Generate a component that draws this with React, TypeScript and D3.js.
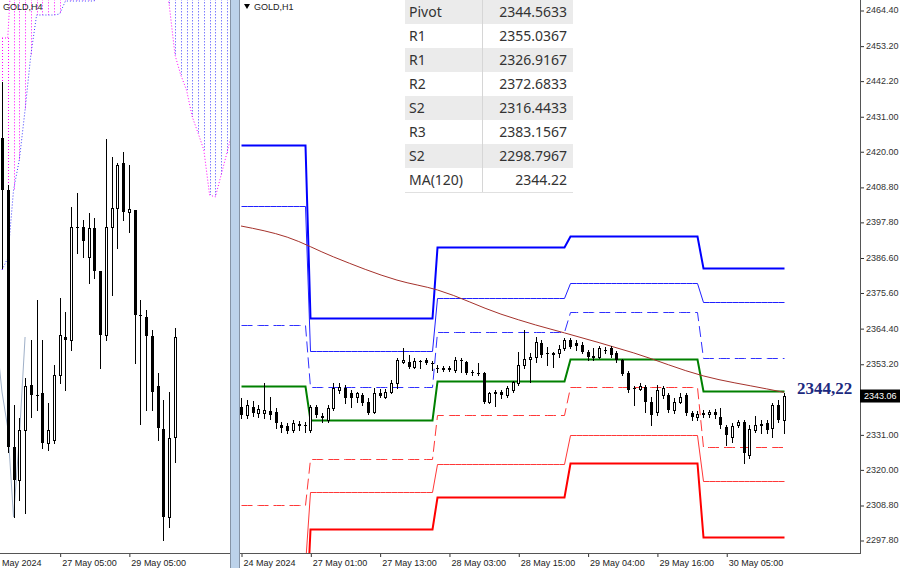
import React, { useEffect, useRef } from 'react';
import * as d3 from 'd3';

// every bar: [open, high, low, close]
type Bar = number[];

/* ---------- H1 pane (right) ---------- */
const BARS_24_MAY: Bar[] = [
  [2339.7, 2342.4, 2336.1, 2337.1], [2337.1, 2341.8, 2336.1, 2340.2], [2339.6, 2341.5, 2336.8, 2337.7],
  [2337.7, 2340.2, 2336.5, 2338.9], [2337.7, 2347.2, 2336.1, 2338.6], [2338.3, 2342.7, 2335.8, 2337.1],
  [2338.0, 2339.3, 2333.0, 2334.6], [2333.9, 2334.9, 2331.7, 2333.0], [2333.6, 2334.6, 2331.4, 2332.0],
  [2332.4, 2335.5, 2331.7, 2334.6], [2334.2, 2335.2, 2332.4, 2333.6], [2333.9, 2334.9, 2331.7, 2333.6]
];
const BARS_27_MAY: Bar[] = [
  [2332.4, 2340.2, 2331.7, 2339.6], [2339.6, 2340.2, 2336.5, 2337.1], [2336.8, 2337.7, 2334.9, 2336.2],
  [2335.5, 2340.2, 2334.9, 2339.3], [2339.3, 2347.2, 2338.6, 2345.6], [2345.0, 2347.2, 2344.0, 2345.9],
  [2345.6, 2346.5, 2340.9, 2342.4], [2344.0, 2345.0, 2339.6, 2342.4], [2342.7, 2344.3, 2341.2, 2344.0],
  [2343.4, 2344.0, 2340.2, 2340.9], [2341.2, 2342.4, 2337.4, 2337.7], [2338.0, 2345.6, 2337.7, 2344.0],
  [2344.0, 2345.3, 2342.7, 2343.0], [2342.7, 2345.3, 2342.4, 2344.3], [2344.3, 2348.1, 2344.0, 2347.2],
  [2347.2, 2355.0, 2345.6, 2354.4], [2353.7, 2358.2, 2353.4, 2354.4], [2353.7, 2356.0, 2351.9, 2352.2],
  [2352.2, 2355.0, 2351.9, 2354.1], [2354.1, 2354.4, 2351.9, 2353.8], [2354.4, 2355.0, 2353.1, 2353.4],
  [2353.4, 2354.1, 2351.2, 2353.2]
];
const BARS_28_MAY: Bar[] = [
  [2351.9, 2352.8, 2350.6, 2351.6], [2351.6, 2352.5, 2350.9, 2351.9], [2351.9, 2352.5, 2350.9, 2351.2],
  [2351.2, 2355.3, 2350.6, 2354.4], [2354.4, 2355.0, 2350.6, 2354.1], [2353.7, 2354.1, 2350.0, 2350.3],
  [2350.6, 2351.2, 2349.7, 2350.3], [2350.4, 2353.4, 2349.7, 2350.0], [2350.3, 2350.5, 2340.9, 2341.2],
  [2341.2, 2344.3, 2340.9, 2344.0], [2344.0, 2345.0, 2339.9, 2344.3], [2344.3, 2345.0, 2342.4, 2343.4],
  [2343.4, 2346.2, 2342.7, 2345.6], [2345.0, 2347.8, 2344.3, 2347.5], [2347.2, 2356.9, 2346.5, 2352.8],
  [2352.8, 2363.8, 2351.9, 2354.7], [2354.7, 2356.6, 2347.5, 2355.3], [2355.3, 2361.6, 2353.7, 2360.0],
  [2359.7, 2360.7, 2355.3, 2356.0], [2356.6, 2358.5, 2352.8, 2356.3], [2356.3, 2356.9, 2352.2, 2356.6],
  [2356.6, 2359.1, 2355.3, 2357.8], [2358.2, 2361.3, 2357.5, 2360.7]
];
const BARS_29_MAY: Bar[] = [
  [2360.7, 2361.3, 2358.2, 2358.5], [2359.7, 2360.7, 2357.5, 2358.8], [2359.1, 2360.0, 2356.6, 2356.9],
  [2356.9, 2357.5, 2354.4, 2355.3], [2355.3, 2358.2, 2354.4, 2355.6], [2355.3, 2358.8, 2355.0, 2358.2],
  [2357.5, 2358.5, 2356.6, 2357.2], [2358.2, 2358.8, 2355.3, 2356.0], [2356.6, 2357.2, 2353.7, 2354.4],
  [2354.4, 2354.7, 2349.7, 2350.0], [2350.3, 2350.9, 2344.3, 2344.9], [2345.6, 2346.2, 2340.2, 2345.3],
  [2345.3, 2347.2, 2344.9, 2346.2], [2345.9, 2346.5, 2338.0, 2341.2], [2341.2, 2342.7, 2333.9, 2337.1],
  [2338.0, 2346.5, 2337.1, 2344.9], [2343.4, 2346.2, 2342.4, 2345.6], [2343.4, 2344.0, 2338.0, 2338.6],
  [2338.6, 2342.4, 2337.7, 2341.2], [2341.2, 2344.0, 2340.9, 2342.7], [2343.4, 2344.0, 2337.1, 2337.7],
  [2337.7, 2338.3, 2335.5, 2336.5], [2336.5, 2338.3, 2335.5, 2337.4]
];
const BARS_30_MAY: Bar[] = [
  [2337.4, 2338.6, 2336.5, 2337.7], [2337.4, 2338.6, 2336.5, 2338.0], [2338.0, 2339.0, 2336.1, 2337.1],
  [2336.5, 2339.3, 2333.0, 2333.9], [2333.3, 2333.9, 2327.7, 2330.8], [2330.2, 2334.6, 2328.6, 2333.6],
  [2333.9, 2335.5, 2333.3, 2334.9], [2334.9, 2335.5, 2322.0, 2325.1], [2324.5, 2333.9, 2323.6, 2332.7],
  [2332.4, 2336.8, 2331.7, 2333.9], [2333.9, 2335.5, 2331.4, 2334.2], [2334.6, 2335.5, 2331.4, 2332.4],
  [2333.0, 2340.9, 2330.2, 2340.2], [2340.2, 2341.8, 2334.9, 2335.5], [2335.5, 2344.0, 2331.4, 2343.06]
];
const DAYS = [BARS_24_MAY, BARS_27_MAY, BARS_28_MAY, BARS_29_MAY, BARS_30_MAY];

// daily levels, one value per day above
const R3 = [2422.0, 2367.6, 2389.9, 2393.4, 2383.1567];
const R2 = [2402.8, 2357.2, 2373.9, 2378.6, 2372.6833];
const R1 = [2365.4, 2345.9, 2363.3, 2369.6, 2355.0367];
const PIVOT = [2346.3, 2335.4, 2347.8, 2354.8, 2344.5633];
const S1 = [2308.8, 2323.3, 2337.1, 2345.8, 2326.9167];
const S2 = [2290.0, 2312.9, 2321.7, 2330.8, 2316.4433];
const S3 = [2268.0, 2301.3, 2311.3, 2322.1, 2298.7967];

const MA_BARS = [0, 8, 16, 27, 34, 45, 51, 56, 68, 80, 91, 94];
const MA_VALUES = [2396.5, 2393.0, 2386.8, 2379.5, 2376.4, 2368.8, 2365.4, 2362.9, 2356.6, 2349.4, 2345.3, 2344.22];
const MA_LABEL = '2344,22';

const PRICE_TICKS = [2464.4, 2453.2, 2442.2, 2431.0, 2420.0, 2408.8, 2397.8, 2386.6, 2375.6, 2364.4,
  2353.2, 2342.2, 2331.0, 2320.0, 2308.8, 2297.8];
const LAST_PRICE = 2343.06;
const H1_TICK_BARS = [0, 12, 24, 36, 48, 60, 72, 84];
const H1_TICK_LABELS = ['24 May 2024', '27 May 01:00', '27 May 13:00', '28 May 03:00', '28 May 15:00',
  '29 May 04:00', '29 May 16:00', '30 May 05:00'];

const TABLE_NAMES = ['Pivot', 'R1', 'R1', 'R2', 'S2', 'R3', 'S2', 'MA(120)'];
const TABLE_VALUES = ['2344.5633', '2355.0367', '2326.9167', '2372.6833', '2316.4433', '2383.1567',
  '2298.7967', '2344.22'];

/* ---------- H4 pane (left) ---------- */
const H4_BARS: Bar[] = [
  [2438.6, 2455.4, 2399.6, 2423.0], [2423.0, 2424.5, 2344.4, 2345.9], [2345.9, 2358.5, 2324.9, 2336.0],
  [2336.0, 2354.6, 2330.0, 2351.0], [2351.0, 2366.6, 2326.1, 2364.2], [2364.5, 2378.0, 2354.9, 2361.5],
  [2361.5, 2390.0, 2357.0, 2361.2], [2362.1, 2378.0, 2345.6, 2347.1], [2347.1, 2359.1, 2345.0, 2351.0],
  [2348.0, 2370.5, 2347.1, 2367.5], [2367.5, 2390.6, 2365.1, 2379.5], [2378.9, 2386.4, 2363.0, 2378.0],
  [2378.0, 2417.9, 2375.0, 2411.9], [2411.9, 2422.1, 2404.1, 2411.6], [2411.9, 2414.0, 2402.9, 2407.7],
  [2402.9, 2416.1, 2395.1, 2411.6], [2411.6, 2414.6, 2396.6, 2398.7], [2398.7, 2398.7, 2369.6, 2379.5],
  [2379.5, 2438.3, 2378.0, 2411.9], [2411.9, 2432.9, 2391.5, 2417.6], [2417.6, 2431.1, 2405.6, 2430.5],
  [2431.1, 2434.4, 2414.0, 2416.4], [2416.4, 2430.5, 2410.4, 2417.3], [2417.0, 2417.0, 2371.1, 2385.5],
  [2385.5, 2390.0, 2352.8, 2385.2], [2384.9, 2387.0, 2357.0, 2379.2], [2379.2, 2381.0, 2357.0, 2362.4],
  [2364.2, 2368.1, 2348.0, 2351.6], [2351.3, 2360.0, 2318.0, 2324.9], [2324.9, 2362.4, 2321.9, 2348.6],
  [2348.9, 2381.6, 2341.4, 2378.9]
];
const CLOUD_PINK = [2468.6, 2468.6,
  2500, 2500, 2500, 2500, 2500, 2500, 2500, 2500, 2500, 2500, 2500, 2500, 2500, 2500, 2500,
  2488, 2488, 2488, 2488, 2488, 2488, 2488, 2488, 2488, 2488, 2488, 2488,
  2478.5, 2463.5, 2457.5, 2453.0, 2444.9, 2440.1, 2435.0, 2421.5, 2420.9, 2427.5, 2434.1, 2441.0];
const CLOUD_BLUE = [2399.0, 2402.6, 2423.0, 2432.0, 2447.0, 2463.5, 2475.5, 2475.5, 2475.5, 2475.5, 2475.8,
  2479.7, 2479.7, 2479.7, 2479.7, 2479.7, 2479.7,
  2500, 2500, 2500, 2500, 2500, 2500, 2500, 2500, 2500, 2500, 2500, 2500,
  2500, 2500, 2500, 2500, 2500, 2500, 2500, 2500, 2500, 2500, 2500, 2500];
const CHIKOU_SHIFT = 26;
const H4_TICK_BARS = [-2.6, 10, 22];
const H4_TICK_LABELS = ['24 May 2024', '27 May 05:00', '29 May 05:00'];

const drawCandles = (g: any, bars: Bar[], x: any, y: any) => {
  const c = g.append('g').attr('shape-rendering', 'crispEdges');
  bars.forEach((b, i) => {
    const [o, h, l, cl] = b;
    const cx = Math.round(x(i));
    c.append('line')
      .attr('x1', cx + 0.5).attr('x2', cx + 0.5)
      .attr('y1', Math.round(y(h))).attr('y2', Math.round(y(l)) + 1)
      .attr('stroke', '#000');
    const top = Math.round(y(Math.max(o, cl)));
    const bot = Math.round(y(Math.min(o, cl)));
    if (cl >= o) {
      c.append('rect')
        .attr('x', cx - 0.5).attr('y', top + 0.5)
        .attr('width', 2).attr('height', Math.max(bot - top, 1))
        .attr('fill', '#fff').attr('stroke', '#000');
    } else {
      c.append('rect')
        .attr('x', cx - 1).attr('y', top)
        .attr('width', 3).attr('height', Math.max(bot - top, 1))
        .attr('fill', '#000');
    }
  });
};

const App: React.FC = () => {
  const svgRef = useRef<SVGSVGElement>(null);

  useEffect(() => {
    const svg = d3.select(svgRef.current);
    svg.selectAll('*').remove();

    const BOTTOM = 553;
    const AXIS_FONT = '"Liberation Sans", Arial, sans-serif';
    const PINK = '#ff00ff';
    const BLUE = '#3c3cff';

    svg.append('rect').attr('width', 900).attr('height', 568).attr('fill', '#fff');
    const defs = svg.append('defs');
    defs.append('clipPath').attr('id', 'clipL')
      .append('rect').attr('x', 0).attr('y', 0).attr('width', 230).attr('height', BOTTOM);
    defs.append('clipPath').attr('id', 'clipR')
      .append('rect').attr('x', 240).attr('y', 0).attr('width', 620).attr('height', BOTTOM);

    /** ******** Left pane (H4) ********* */
    const xL = d3.scaleLinear().domain([0, 30]).range([2, 175]);
    const yL = d3.scaleLinear().domain([2314.1, 2480]).range([BOTTOM, 0]);
    const gL = svg.append('g').attr('clip-path', 'url(#clipL)');

    // cloud hatching
    CLOUD_PINK.forEach((p, k) => {
      const b = CLOUD_BLUE[k];
      const cx = Math.round(xL(k)) + 0.5;
      gL.append('line')
        .attr('x1', cx).attr('x2', cx)
        .attr('y1', yL(Math.max(p, b))).attr('y2', yL(Math.min(p, b)))
        .attr('stroke', p > b ? PINK : BLUE)
        .attr('stroke-dasharray', '1,2');
    });
    const spanLine = d3.line<number>().x((_, k) => xL(k)).y((d) => yL(d));
    gL.append('path').datum(CLOUD_PINK).attr('d', spanLine)
      .attr('fill', 'none').attr('stroke', PINK).attr('stroke-dasharray', '1,2');
    gL.append('path').datum(CLOUD_BLUE).attr('d', spanLine)
      .attr('fill', 'none').attr('stroke', BLUE).attr('stroke-dasharray', '1,2');

    // lagging line
    const lagLine = d3.line<Bar>().x((_, k) => xL(k - CHIKOU_SHIFT)).y((d) => yL(d[3]));
    gL.append('path').datum(H4_BARS).attr('d', lagLine)
      .attr('fill', 'none').attr('stroke', '#9fb0c8');

    drawCandles(gL, H4_BARS, xL, yL);

    gL.append('text').attr('x', 3).attr('y', 10)
      .attr('font-family', AXIS_FONT).attr('font-size', 9).attr('fill', '#222')
      .text('GOLD,H4');

    const xAxisL = d3.axisBottom(xL).tickValues(H4_TICK_BARS).tickSize(4)
      .tickFormat((_, i) => H4_TICK_LABELS[i]);
    const axL = svg.append('g').attr('transform', `translate(0,${BOTTOM})`).call(xAxisL);
    axL.select('.domain').remove();
    axL.selectAll('line').attr('stroke', '#333').attr('transform', 'translate(0.5,0)');
    axL.selectAll('text').attr('text-anchor', 'start').attr('x', 2)
      .attr('font-family', AXIS_FONT).attr('font-size', 9).attr('fill', '#222');
    svg.append('line').attr('x1', 0).attr('x2', 230).attr('y1', BOTTOM + 0.5).attr('y2', BOTTOM + 0.5)
      .attr('stroke', '#555');

    // separator between the panes
    svg.append('rect').attr('x', 231).attr('y', 0).attr('width', 9).attr('height', 568).attr('fill', '#bcd2ea');
    svg.append('line').attr('x1', 230.5).attr('x2', 230.5).attr('y1', 0).attr('y2', 568).attr('stroke', '#8593a5');
    svg.append('line').attr('x1', 239.5).attr('x2', 239.5).attr('y1', 0).attr('y2', 568).attr('stroke', '#8593a5');

    /** ******** Right pane (H1) ********* */
    const bars = DAYS.flat();
    const dayOfBar = DAYS.flatMap((d, di) => d.map(() => di));
    const xR = d3.scaleLinear().domain([0, bars.length - 1]).range([241, 784]);
    const yR = d3.scaleLinear().domain([2297.8, 2464.4]).range([540, 10]);
    const gR = svg.append('g').attr('clip-path', 'url(#clipR)');

    const LEVELS = [
      { vals: R3, color: '#0000ff', width: 2, dash: null },
      { vals: R2, color: '#2020ff', width: 1, dash: null },
      { vals: R1, color: '#3030ff', width: 1, dash: '11,5' },
      { vals: PIVOT, color: '#008000', width: 2, dash: null },
      { vals: S1, color: '#ff3838', width: 1, dash: '11,5' },
      { vals: S2, color: '#ff3838', width: 1, dash: null },
      { vals: S3, color: '#ff0000', width: 2, dash: null }
    ];
    const levelLine = d3.line<number>()
      .x((_, i) => Math.round(xR(i)) + 0.5)
      .y((d) => Math.round(yR(d)) + 0.5);
    LEVELS.forEach((lv) => {
      gR.append('path')
        .datum(dayOfBar.map((di) => lv.vals[di]))
        .attr('d', levelLine)
        .attr('fill', 'none')
        .attr('stroke', lv.color)
        .attr('stroke-width', lv.width)
        .attr('stroke-dasharray', lv.dash);
    });

    const maLine = d3.line<number>()
      .x((_, i) => xR(MA_BARS[i]))
      .y((d) => yR(d))
      .curve(d3.curveMonotoneX);
    gR.append('path').datum(MA_VALUES).attr('d', maLine)
      .attr('fill', 'none').attr('stroke', '#a5322c').attr('stroke-width', 1);

    drawCandles(gR, bars, xR, yR);

    // title
    gR.append('path').attr('d', 'M244,4 L250,4 L247,9 Z').attr('fill', '#000');
    gR.append('text').attr('x', 254).attr('y', 10)
      .attr('font-family', AXIS_FONT).attr('font-size', 9).attr('fill', '#222')
      .text('GOLD,H1');

    // levels table
    const TABLE_X = 405;
    const TABLE_W = 168;
    const ROW_H = 24;
    const table = svg.append('g').attr('font-family', '"Noto Sans", "Open Sans", sans-serif')
      .attr('font-size', 14).attr('fill', '#333');
    TABLE_NAMES.forEach((name, i) => {
      table.append('rect').attr('x', TABLE_X).attr('y', i * ROW_H)
        .attr('width', TABLE_W).attr('height', ROW_H)
        .attr('fill', i % 2 === 0 ? '#ebebeb' : '#ffffff');
      table.append('text').attr('x', TABLE_X + 4).attr('y', i * ROW_H + 17).text(name);
      table.append('text').attr('x', TABLE_X + 162).attr('y', i * ROW_H + 17)
        .attr('text-anchor', 'end').text(TABLE_VALUES[i]);
    });
    table.append('line').attr('x1', 482.5).attr('x2', 482.5).attr('y1', 0).attr('y2', TABLE_NAMES.length * ROW_H)
      .attr('stroke', '#d6d6d6');
    table.append('line').attr('x1', TABLE_X).attr('x2', TABLE_X + TABLE_W)
      .attr('y1', TABLE_NAMES.length * ROW_H + 0.5).attr('y2', TABLE_NAMES.length * ROW_H + 0.5)
      .attr('stroke', '#e0e0e0');

    // MA value label
    svg.append('text').attr('x', 797).attr('y', yR(MA_VALUES[MA_VALUES.length - 1]) + 1.5)
      .attr('font-family', '"Liberation Serif", "Times New Roman", serif')
      .attr('font-weight', 'bold').attr('font-size', 17).attr('fill', '#1c2a80')
      .text(MA_LABEL);

    // price axis
    const yAxis = d3.axisRight(yR).tickValues(PRICE_TICKS).tickSize(4).tickPadding(2)
      .tickFormat(d3.format('.2f'));
    const axY = svg.append('g').attr('transform', 'translate(860,0)').call(yAxis);
    axY.select('.domain').remove();
    axY.selectAll('line').attr('stroke', '#333').attr('transform', 'translate(0,0.5)');
    axY.selectAll('text').attr('font-family', AXIS_FONT).attr('font-size', 9).attr('fill', '#333');
    svg.append('line').attr('x1', 860.5).attr('x2', 860.5).attr('y1', 0).attr('y2', BOTTOM + 1)
      .attr('stroke', '#555');

    // last price tag
    const yLast = yR(LAST_PRICE);
    svg.append('rect').attr('x', 860).attr('y', yLast - 6.5).attr('width', 40).attr('height', 13).attr('fill', '#000');
    svg.append('text').attr('x', 864).attr('y', yLast + 3.3)
      .attr('font-family', AXIS_FONT).attr('font-size', 9).attr('fill', '#fff')
      .text(LAST_PRICE.toFixed(2));

    // time axis
    const xAxisR = d3.axisBottom(xR).tickValues(H1_TICK_BARS).tickSize(4)
      .tickFormat((_, i) => H1_TICK_LABELS[i]);
    const axR = svg.append('g').attr('transform', `translate(0,${BOTTOM})`).call(xAxisR);
    axR.select('.domain').remove();
    axR.selectAll('line').attr('stroke', '#333').attr('transform', 'translate(0.5,0)');
    axR.selectAll('text').attr('text-anchor', 'start').attr('x', 2)
      .attr('font-family', AXIS_FONT).attr('font-size', 9).attr('fill', '#222');
    svg.append('line').attr('x1', 240).attr('x2', 861).attr('y1', BOTTOM + 0.5).attr('y2', BOTTOM + 0.5)
      .attr('stroke', '#555');
  }, []);

  return (
    <svg
      ref={svgRef}
      width={900}
      height={568}
      style={{ position: 'absolute', left: 0, top: 0, display: 'block' }}
    />
  );
};

export default App;
